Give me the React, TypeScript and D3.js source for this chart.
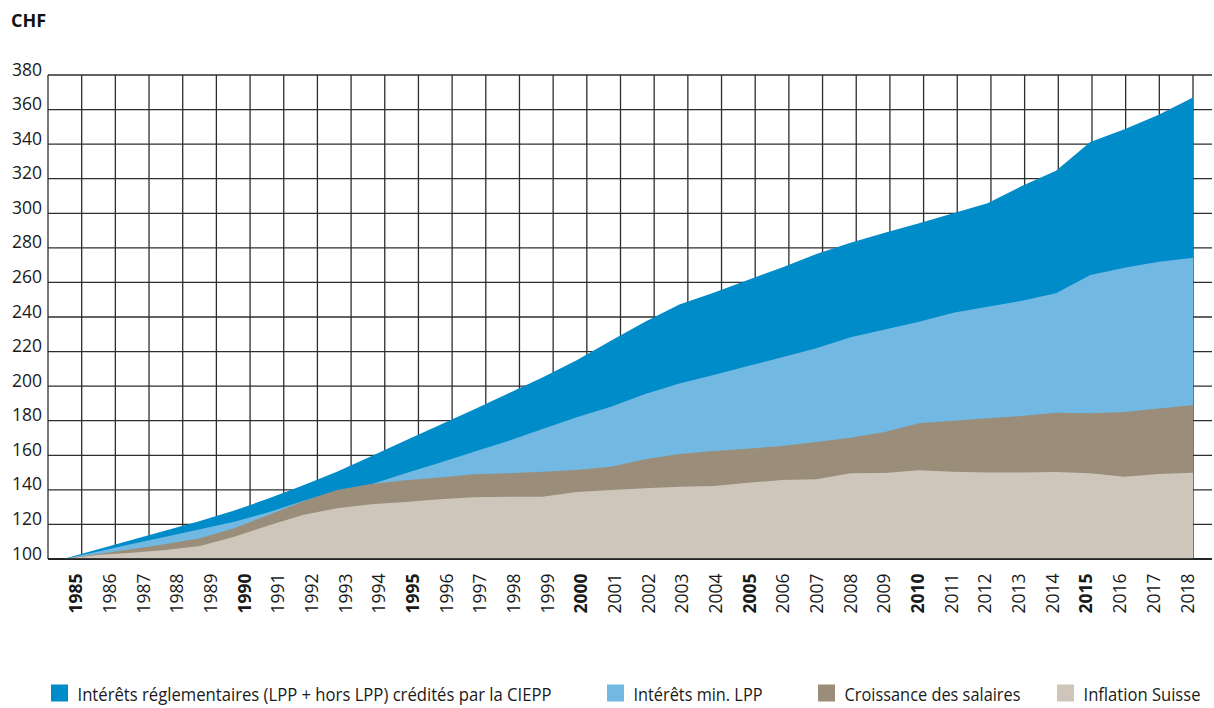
import React, { useEffect, useRef } from 'react';
import * as d3 from 'd3';

const years = d3.range(1985, 2019);

// Valeurs (base 100 en 1985)
const interetsCiepp = [
  100, 105.5, 111, 116.5, 122, 128, 135, 142.5, 150.5, 159.5,
  168.5, 177.5, 186.5, 195.8, 205, 215, 226.3, 237.3, 247.3, 254,
  261.4, 268.7, 276.4, 283, 288.8, 294.2, 300, 305.8, 315.8, 324.6,
  341.2, 348.6, 357, 367,
];
const interetsMinLpp = [
  100, 104.2, 108.7, 112.9, 117.2, 121.6, 127, 133.5, 139.5, 143.3,
  149.6, 155.7, 162.1, 168.3, 175.2, 182, 188.1, 195.5, 201.6, 206.4,
  211.6, 216.7, 221.9, 228.3, 232.7, 237.3, 242.5, 246, 249.4, 253.7,
  264.3, 268.5, 272, 274.3,
];
const croissanceSalaires = [
  100, 102.9, 105.6, 108.7, 112, 117.8, 125.5, 133.2, 139.9, 143.4,
  145.5, 147.2, 149, 149.6, 150.5, 151.5, 153.4, 157.7, 160.7, 162.5,
  163.8, 165.4, 167.7, 170.2, 173.5, 178.5, 180, 181.4, 182.7, 184.6,
  184.3, 185, 187, 189.1,
];
const inflationSuisse = [
  100, 102.3, 103.6, 105.2, 107.5, 112.9, 119.4, 125.5, 129.3, 131.7,
  133, 134.5, 135.7, 136, 136, 138.7, 139.9, 140.9, 141.8, 142.2,
  144.1, 145.7, 146.1, 149.6, 149.8, 151.3, 150.5, 150.1, 150.1, 150.3,
  149.6, 147.6, 149.2, 149.9,
];

const yTicks = d3.range(100, 381, 20);

const seriesNames = [
  'Intérêts réglementaires (LPP + hors LPP) crédités par la CIEPP',
  'Intérêts min. LPP',
  'Croissance des salaires',
  'Inflation Suisse',
];
const seriesValues = [interetsCiepp, interetsMinLpp, croissanceSalaires, inflationSuisse];
const colors = ['#008bc9', '#71b9e2', '#9a8e7b', '#cec6ba'];

const FONT = "'Open Sans', 'Noto Sans', sans-serif";

export default function App() {
  const svgRef = useRef<SVGSVGElement>(null);

  useEffect(() => {
    const svg = d3.select(svgRef.current);
    svg.selectAll('*').remove();

    const top = 75;
    const bottom = 559;
    const left = 48;
    const right = 1212;

    // échelles
    const x = d3.scaleLinear().domain([1985, 2018]).range([63, 1193]);
    const xGrid = d3.scaleLinear().domain([1984, 2018]).range([left, 1193]);
    const y = d3.scaleLinear().domain([100, 380]).range([bottom, top]);

    // grille
    const grid = svg.append('g');
    grid.selectAll('line.h')
      .data(yTicks)
      .enter()
      .append('line')
      .attr('x1', left)
      .attr('x2', right)
      .attr('y1', d => y(d))
      .attr('y2', d => y(d))
      .attr('stroke', '#2e2e2e')
      .attr('stroke-width', 1.3);

    grid.selectAll('line.v')
      .data(d3.range(1984, 2019))
      .enter()
      .append('line')
      .attr('x1', d => xGrid(d))
      .attr('x2', d => xGrid(d))
      .attr('y1', top)
      .attr('y2', bottom)
      .attr('stroke', '#2e2e2e')
      .attr('stroke-width', 1.3);

    // surfaces
    seriesValues.forEach((vals, i) => {
      const area = d3.area<number>()
        .x((_, j) => x(years[j]))
        .y0(y(100))
        .y1(d => y(d));
      svg.append('path')
        .datum(vals)
        .attr('d', area)
        .attr('fill', colors[i]);
    });

    // axe du bas
    svg.append('line')
      .attr('x1', left)
      .attr('x2', right)
      .attr('y1', bottom)
      .attr('y2', bottom)
      .attr('stroke', '#111')
      .attr('stroke-width', 1.5);

    // étiquettes Y
    svg.selectAll('text.ytick')
      .data(yTicks)
      .enter()
      .append('text')
      .attr('x', 42)
      .attr('y', d => y(d) + 0.5)
      .attr('text-anchor', 'end')
      .style('font-family', FONT)
      .style('font-size', '17.5px')
      .style('fill', '#1a1a1a')
      .text(d => d);

    // étiquettes X (verticales)
    svg.selectAll('text.xtick')
      .data(years)
      .enter()
      .append('text')
      .attr('transform', d => `translate(${xGrid(d) + 0.5},573.5) rotate(-90)`)
      .attr('text-anchor', 'end')
      .style('font-family', FONT)
      .style('font-size', '17.5px')
      .style('font-weight', d => (d % 5 === 0 ? 700 : 400))
      .style('fill', '#1a1a1a')
      .text(d => d);

    // unité
    svg.append('text')
      .attr('x', 11)
      .attr('y', 27)
      .style('font-family', FONT)
      .style('font-size', '18px')
      .style('font-weight', 700)
      .style('fill', '#111')
      .text('CHF');

    // légende
    const legendX = [51, 607, 818, 1057];
    const legendW = [474, 129, 176, 117];
    seriesNames.forEach((name, i) => {
      svg.append('rect')
        .attr('x', legendX[i])
        .attr('y', 684.5)
        .attr('width', 17)
        .attr('height', 17)
        .attr('fill', colors[i]);
      svg.append('text')
        .attr('x', legendX[i] + 26.5)
        .attr('y', 701.3)
        .attr('textLength', legendW[i])
        .attr('lengthAdjust', 'spacingAndGlyphs')
        .style('font-family', FONT)
        .style('font-size', '18.5px')
        .style('fill', '#1a1a1a')
        .text(name);
    });
  }, []);

  return (
    <svg
      ref={svgRef}
      width={1214}
      height={708}
      style={{ position: 'absolute', left: 0, top: 0, background: '#fff' }}
    />
  );
}
